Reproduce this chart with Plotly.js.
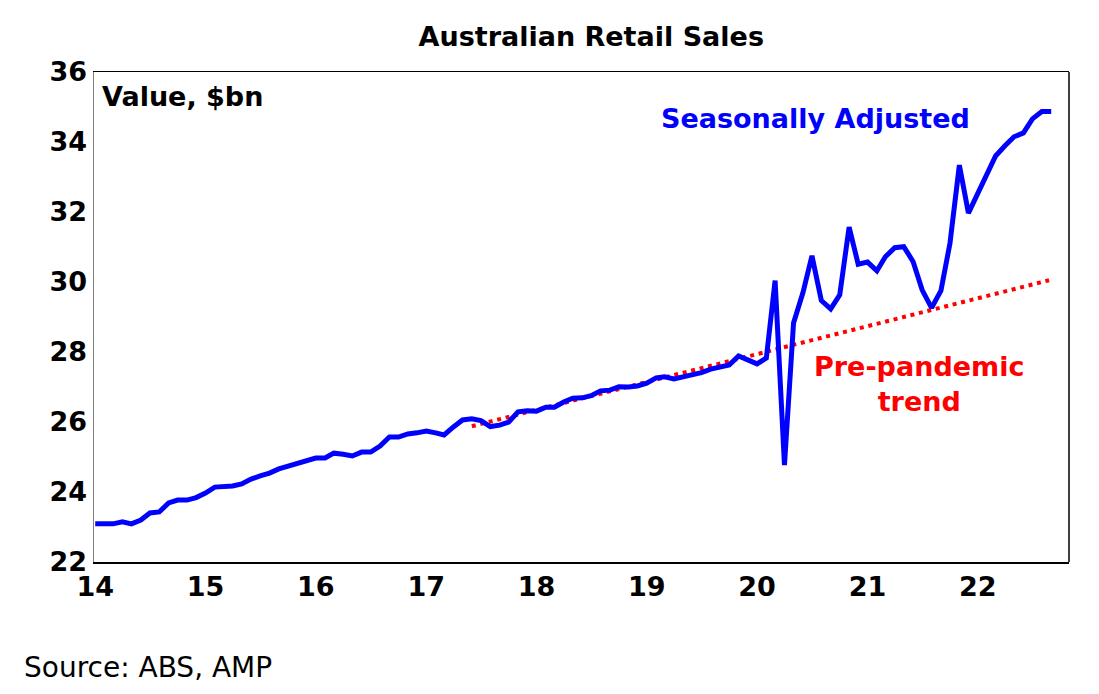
<!DOCTYPE html>
<html>
<head>
    <meta charset='utf-8'>
    <title>Australian Retail Sales</title>
    <script src="https://cdn.plot.ly/plotly-3.0.1.min.js"></script>
    <style>
        body { margin:0; background:#ffffff; }
        #chartDiv { width:1099px; height:694px; }
    </style>
</head>
<body>
    <div id="chartDiv"></div>

    <script>
        // monthly retail turnover, seasonally adjusted, $bn (Jan of each year first)
        const sales2014 = [23.09, 23.09, 23.09, 23.15, 23.09, 23.20, 23.40, 23.43, 23.69, 23.77, 23.77, 23.84];
        const sales2015 = [23.97, 24.14, 24.14, 24.17, 24.23, 24.37, 24.46, 24.54, 24.66, 24.74, 24.83, 24.89];
        const sales2016 = [24.97, 24.97, 25.11, 25.08, 25.03, 25.14, 25.14, 25.31, 25.57, 25.57, 25.66, 25.69];
        const sales2017 = [25.74, 25.69, 25.63, 25.86, 26.06, 26.09, 26.04, 25.87, 25.91, 26.00, 26.29, 26.32];
        const sales2018 = [26.31, 26.42, 26.42, 26.57, 26.68, 26.69, 26.75, 26.89, 26.91, 27.01, 27.00, 27.03];
        const sales2019 = [27.11, 27.26, 27.29, 27.23, 27.29, 27.34, 27.41, 27.51, 27.58, 27.63, 27.89, 27.77];
        const sales2020 = [27.66, 27.83, 30.04, 24.77, 28.83, 29.69, 30.75, 29.47, 29.23, 29.63, 31.57, 30.51];
        const sales2021 = [30.57, 30.32, 30.72, 30.98, 31.01, 30.58, 29.77, 29.26, 29.75, 31.11, 33.34, 31.97];
        const sales2022 = [32.51, 33.09, 33.60, 33.89, 34.15, 34.26, 34.66, 34.87, 34.87];

        const startYear = 2014;

        // pre-pandemic trend, start and end points
        const trendDates = ['2017-06-01', '2022-08-25'];
        const trendValues = [25.88, 30.05];

        const yearTicks = ['2014-01-01','2015-01-01','2016-01-01','2017-01-01','2018-01-01',
                           '2019-01-01','2020-01-01','2021-01-01','2022-01-01'];
        const yearLabels = ['14','15','16','17','18','19','20','21','22'];
        const valueTicks = [22, 24, 26, 28, 30, 32, 34, 36];

        const chartDiv = document.getElementById("chartDiv");

        const sales = [].concat(sales2014, sales2015, sales2016, sales2017, sales2018,
                                sales2019, sales2020, sales2021, sales2022);

        const monthDates = sales.map((v, idx) => {
            const y = startYear + Math.floor(idx / 12);
            const m = (idx % 12) + 1;
            return y + '-' + (m < 10 ? '0' + m : m) + '-01';
        });

        const boldFont = { family: 'DejaVu Sans', size: 27, weight: 'bold', color: '#000000' };

        const salesLine = {
            x : monthDates,
            y : sales,
            type : 'scatter',
            mode : 'lines',
            line : { color: '#0000FF', width: 5 },
            hoverinfo : 'skip',
        };

        const trendLine = {
            x : trendDates,
            y : trendValues,
            type : 'scatter',
            mode : 'lines',
            line : { color: '#FF0000', width: 4, dash: '4px,4.7px' },
            hoverinfo : 'skip',
        };

        const layout = {
            width : 1099,
            height : 694,
            margin : { l: 94, r: 30, t: 72, b: 132 },
            paper_bgcolor : '#ffffff',
            plot_bgcolor : '#ffffff',
            showlegend : false,
            font : { family: 'DejaVu Sans', color: '#000000' },
            title : {
                text : 'Australian Retail Sales',
                font : boldFont,
                xref : 'paper', x : 0.51, xanchor : 'center',
                yref : 'container', y : 0.948, yanchor : 'middle',
            },
            xaxis : {
                type : 'date',
                range : ['2013-12-28', '2022-10-30'],
                tickvals : yearTicks,
                ticktext : yearLabels,
                tickfont : boldFont,
                ticks : '',
                ticklabelstandoff : 0,
                showgrid : false,
                zeroline : false,
                showline : true,
                linecolor : '#000000',
                linewidth : 1.5,
                mirror : true,
            },
            yaxis : {
                range : [22, 36],
                tickvals : valueTicks,
                tickfont : boldFont,
                ticks : '',
                showgrid : false,
                zeroline : false,
                showline : true,
                linecolor : '#808080',
                linewidth : 1.5,
            },
            shapes : [
                { type: 'line', xref: 'paper', yref: 'paper', x0: 1, x1: 1, y0: 0, y1: 1,
                  line: { color: '#000000', width: 1.5 } },
            ],
            annotations : [
                { text: 'Value, $bn', xref: 'paper', yref: 'paper', x: 0.006, y: 0.951,
                  xanchor: 'left', yanchor: 'middle', showarrow: false, font: boldFont },
                { text: 'Seasonally Adjusted', xref: 'paper', yref: 'paper', x: 0.7405, y: 0.906,
                  xanchor: 'center', yanchor: 'middle', showarrow: false,
                  font: { family: 'DejaVu Sans', size: 27, weight: 'bold', color: '#0000FF' } },
                { text: 'Pre-pandemic<br>trend', xref: 'paper', yref: 'paper', x: 0.846, y: 0.364,
                  xanchor: 'center', yanchor: 'middle', showarrow: false, align: 'center',
                  font: { family: 'DejaVu Sans', size: 27, weight: 'bold', color: '#FF0000' } },
                { text: 'Source: ABS, AMP', xref: 'paper', yref: 'paper', x: -0.0738, y: -0.216,
                  xanchor: 'left', yanchor: 'middle', showarrow: false,
                  font: { family: 'DejaVu Sans', size: 28, color: '#000000' } },
            ],
        };

        Plotly.newPlot(chartDiv, [trendLine, salesLine], layout, { displayModeBar: false, staticPlot: true });
    </script>
</body>
</html>
